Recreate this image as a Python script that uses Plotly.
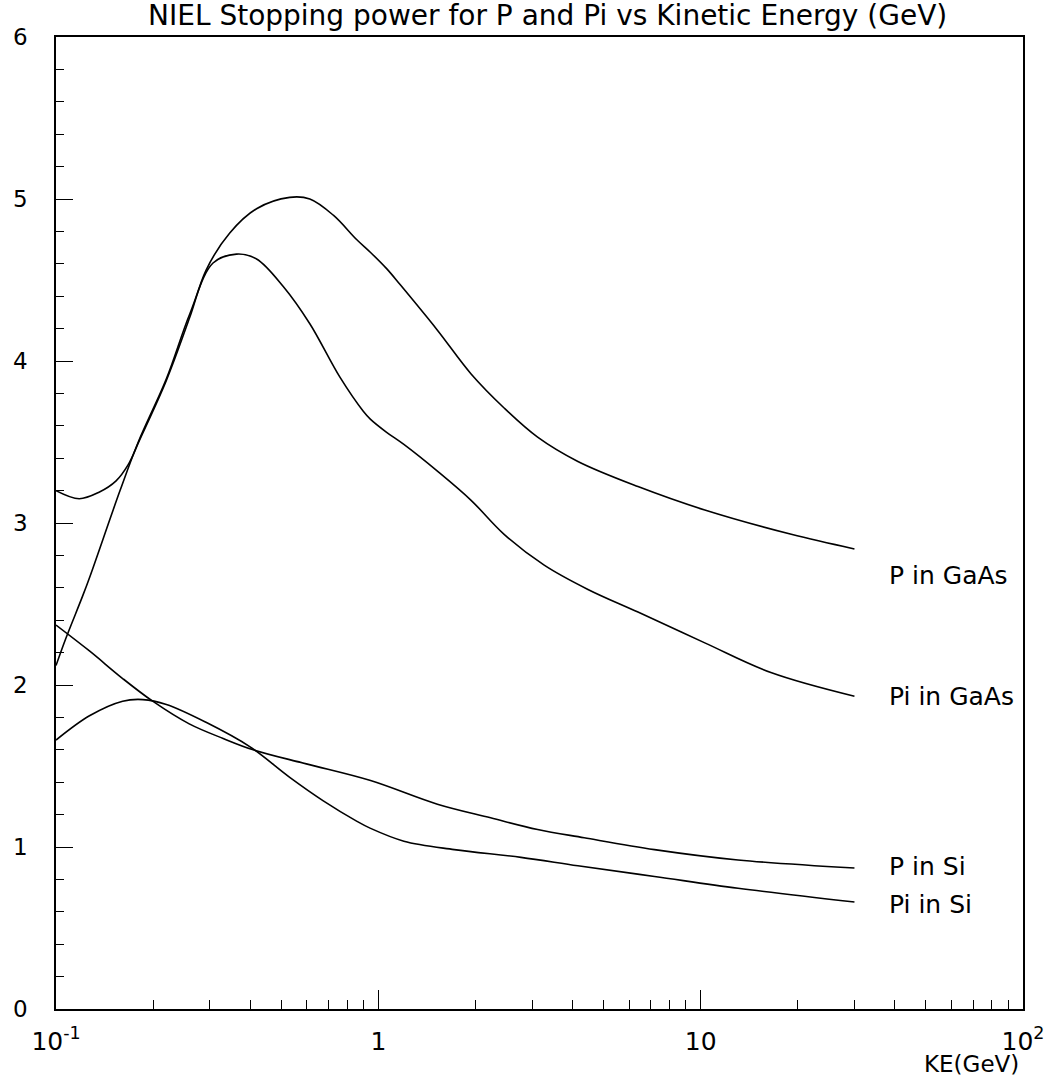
import math
import plotly.graph_objects as go

# Kinetic energy (GeV) and NIEL stopping power for each particle/material pair
ke_p_gaas = [0.1, 0.118, 0.136, 0.1536, 0.1675, 0.1815, 0.22, 0.26, 0.292, 0.346,
             0.419, 0.531, 0.613, 0.725, 0.856, 0.946, 1.061, 1.17, 1.525, 1.94,
             2.456, 3.12, 4.16, 6.39, 10.3, 19.1, 30]
niel_p_gaas = [3.20, 3.15, 3.19, 3.26, 3.36, 3.51, 3.88, 4.27, 4.56, 4.79,
               4.94, 5.01, 5.00, 4.90, 4.75, 4.67, 4.57, 4.47, 4.19, 3.92,
               3.71, 3.53, 3.38, 3.225, 3.08, 2.93, 2.84]

ke_pi_gaas = [0.1, 0.1074, 0.121, 0.1277, 0.158, 0.18, 0.22, 0.26, 0.307, 0.363,
              0.419, 0.507, 0.613, 0.76, 0.898, 0.946, 1.061, 1.20, 1.525, 1.94,
              2.456, 3.27, 4.47, 6.39, 10.3, 16.6, 30]
niel_pi_gaas = [2.12, 2.29, 2.55, 2.675, 3.20, 3.50, 3.89, 4.29, 4.605, 4.66,
                4.63, 4.46, 4.23, 3.90, 3.69, 3.64, 3.56, 3.485, 3.32, 3.14,
                2.93, 2.74, 2.59, 2.45, 2.26, 2.075, 1.93]

ke_p_si = [0.1, 0.127, 0.161, 0.1995, 0.259, 0.33, 0.409, 0.598, 0.946, 1.525,
           2.23, 3.12, 4.35, 7.19, 13.06, 30]
niel_p_si = [2.37, 2.21, 2.04, 1.90, 1.76, 1.67, 1.60, 1.513, 1.41, 1.264,
             1.18, 1.108, 1.057, 0.984, 0.92, 0.87]

ke_pi_si = [0.1, 0.127, 0.161, 0.186, 0.22, 0.292, 0.399, 0.531, 0.675, 0.856,
            0.946, 1.20, 1.72, 2.77, 4.16, 7.19, 13.06, 30]
niel_pi_si = [1.66, 1.81, 1.90, 1.91, 1.88, 1.77, 1.62, 1.43, 1.285, 1.16,
              1.115, 1.036, 0.984, 0.936, 0.884, 0.818, 0.745, 0.66]

curve_names = ["P in GaAs", "Pi in GaAs", "P in Si", "Pi in Si"]

x_major_vals = [0.1, 1, 10, 100]
x_major_text = ["10<sup>-1</sup>", "1", "10", "10<sup>2</sup>"]
y_major_vals = [0, 1, 2, 3, 4, 5, 6]

FONT = "DejaVu Sans"
INK = "black"

series = [
    (ke_p_gaas, niel_p_gaas, -27),
    (ke_pi_gaas, niel_pi_gaas, 0),
    (ke_p_si, niel_p_si, 2),
    (ke_pi_si, niel_pi_si, -2),
]

fig = go.Figure()
for (xs, ys, _), name in zip(series, curve_names):
    fig.add_trace(go.Scatter(
        x=xs, y=ys, mode="lines", name=name,
        line=dict(color=INK, width=1.6, shape="spline", smoothing=1.0),
        showlegend=False, hoverinfo="skip",
    ))

# curve labels placed just past the last point of each curve
for (xs, ys, dy), name in zip(series, curve_names):
    fig.add_annotation(
        x=math.log10(xs[-1]), y=ys[-1], xref="x", yref="y",
        text=name, showarrow=False, xanchor="left", yanchor="middle",
        xshift=33, yshift=dy,
        font=dict(family=FONT, size=25, color=INK),
    )

minor_x = [m * d for d in (0.1, 1, 10) for m in range(2, 10)]
minor_y = [v / 5 for v in range(0, 31) if v % 5]

fig.update_xaxes(
    type="log", range=[-1, 2],
    tickmode="array", tickvals=x_major_vals, ticktext=x_major_text,
    ticks="inside", ticklen=19, tickwidth=1.2, tickcolor=INK,
    minor=dict(tickmode="array", tickvals=minor_x, ticks="inside",
               ticklen=9, tickwidth=1.2, tickcolor=INK, showgrid=False),
    showline=True, linecolor=INK, linewidth=1.6, mirror=True,
    showgrid=False, zeroline=False,
    tickfont=dict(family=FONT, size=25, color=INK),
    ticklabelstandoff=9,
)
fig.update_yaxes(
    range=[0, 6],
    tickmode="array", tickvals=y_major_vals,
    ticks="inside", ticklen=17, tickwidth=1.2, tickcolor=INK,
    minor=dict(tickmode="array", tickvals=minor_y, ticks="inside",
               ticklen=8, tickwidth=1.2, tickcolor=INK, showgrid=False),
    showline=True, linecolor=INK, linewidth=1.6, mirror=True,
    showgrid=False, zeroline=False,
    tickfont=dict(family=FONT, size=23, color=INK),
    ticklabelstandoff=22,
)

fig.add_annotation(
    text="NIEL Stopping power for P and Pi vs Kinetic Energy (GeV)",
    xref="paper", yref="paper", x=0.508, y=1.0, yshift=22,
    xanchor="center", yanchor="middle", showarrow=False,
    font=dict(family=FONT, size=28, color=INK),
)
fig.add_annotation(
    text="KE(GeV)", xref="paper", yref="paper", x=0.998, y=0, yshift=-55,
    xanchor="right", yanchor="middle", showarrow=False,
    font=dict(family=FONT, size=23, color=INK),
)

fig.update_layout(
    width=1055, height=1077,
    margin=dict(l=56, r=32, t=37, b=68),
    paper_bgcolor="white", plot_bgcolor="white",
)

fig.write_html("out.html")
